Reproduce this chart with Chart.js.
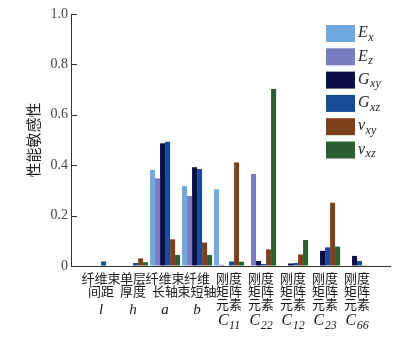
<!DOCTYPE html>
<html>
<head>
<meta charset="utf-8">
<script src="https://cdn.jsdelivr.net/npm/chart.js@4/dist/chart.umd.min.js"></script>
<style>
  html, body { margin: 0; padding: 0; background: #fff; }
  #wrap { width: 412px; height: 345px; position: relative; }
</style>
</head>
<body>
<div id="wrap"><canvas id="c"></canvas></div>
<script>
// 横軸カテゴリ(中国語の行)と記号(斜体 + 下付き)
const categories = [
  ['纤维束', '间距'],
  ['单层', '厚度'],
  ['纤维束', '长轴'],
  ['纤维', '束短轴'],
  ['刚度', '矩阵', '元素'],
  ['刚度', '矩阵', '元素'],
  ['刚度', '矩阵', '元素'],
  ['刚度', '矩阵', '元素'],
  ['刚度', '矩阵', '元素'],
];
const symbols = [['l', ''], ['h', ''], ['a', ''], ['b', ''], ['C', '11'], ['C', '22'], ['C', '12'], ['C', '23'], ['C', '66']];

// 系列名(本体, 下付き)と値
const seriesNames = [['E', 'x'], ['E', 'z'], ['G', 'xy'], ['G', 'xz'], ['v', 'xy'], ['v', 'xz']];
const Ex  = [0,     0,     0.381, 0.317, 0.304, 0,     0,     0.002, 0];
const Ez  = [0,     0,     0.348, 0.278, 0.005, 0.365, 0,     0.002, 0];
const Gxy = [0,     0,     0.487, 0.392, 0,     0.020, 0.010, 0.060, 0.040];
const Gxz = [0.018, 0.012, 0.493, 0.385, 0.018, 0.008, 0.012, 0.074, 0.020];
const vxy = [0,     0.030, 0.106, 0.093, 0.411, 0.066, 0.046, 0.251, 0.003];
const vxz = [0,     0.015, 0.044, 0.044, 0.017, 0.702, 0.103, 0.077, 0.002];
const seriesValues = [Ex, Ez, Gxy, Gxz, vxy, vxz];
const seriesColors = ['#6fa8dc', '#7a7cc2', '#0c0e46', '#184d96', '#7c401a', '#2d5e32'];

const yTicks = [0, 0.2, 0.4, 0.6, 0.8, 1.0];

const SERIF = '"Liberation Serif", "DejaVu Serif", serif';
const CJK = '"Noto Sans CJK SC", sans-serif';

/// 斜体の本体 + 下付きを描く。x は本体左端。幅を返す。
function drawSub(ctx, x, y, main, sub, size, subSize, draw = true) {
  ctx.font = `italic ${size}px ${SERIF}`;
  if (draw) ctx.fillText(main, x, y);
  let w = ctx.measureText(main).width;
  if (sub) {
    ctx.font = `italic ${subSize}px ${SERIF}`;
    if (draw) ctx.fillText(sub, x + w + 0.5, y + size * 0.28);
    w += 0.5 + ctx.measureText(sub).width;
  }
  return w;
}

const decorations = {
  id: 'decorations',
  afterDraw(chart) {
    const { ctx, chartArea: a, scales } = chart;
    const xs = scales.x, ys = scales.y;
    ctx.save();
    // y 軸の内向き目盛り
    ctx.strokeStyle = '#333';
    ctx.lineWidth = 1;
    for (const v of yTicks) {
      const py = Math.round(ys.getPixelForValue(v)) + 0.5;
      ctx.beginPath();
      ctx.moveTo(a.left, py);
      ctx.lineTo(a.left + 6, py);
      ctx.stroke();
    }
    // 横軸記号 l, h, a, b, C_ij
    ctx.fillStyle = '#1a1a1a';
    ctx.textBaseline = 'middle';
    ctx.textAlign = 'left';
    symbols.forEach(([m, s], i) => {
      const px = xs.getPixelForValue(i);
      const py = a.bottom + (categories[i].length === 2 ? 44 : 55);
      const size = s ? 16 : 15;
      const w = drawSub(ctx, 0, 0, m, s, size, 12, false);
      drawSub(ctx, px - w / 2, py, m, s, size, 12);
    });
    // 凡例
    const bx = a.right - 64, by = a.top + 11, step = 23.3;
    seriesNames.forEach(([m, s], i) => {
      const y0 = by + i * step;
      ctx.fillStyle = seriesColors[i];
      ctx.fillRect(bx, y0, 29, 17);
      ctx.fillStyle = '#222';
      drawSub(ctx, bx + 32, y0 + 8, m, s, 16, 12);
    });
    ctx.restore();
  },
};

new Chart(document.getElementById('c'), {
  type: 'bar',
  data: {
    datasets: seriesValues.map((vals, k) => ({
      label: seriesNames[k].join(''),
      data: vals.map((y, i) => ({ x: i, y })),
      backgroundColor: seriesColors[k],
      borderWidth: 0,
      categoryPercentage: 0.94,
      barPercentage: 1.0,
    })),
  },
  options: {
    responsive: true,
    maintainAspectRatio: false,
    animation: false,
    layout: { padding: { left: 0, top: 14, right: 22, bottom: 0 } },
    plugins: { legend: { display: false }, tooltip: { enabled: false } },
    scales: {
      x: {
        type: 'linear',
        min: -0.94,
        max: 9.03,
        offset: false,
        grid: { display: true, drawOnChartArea: false, drawTicks: false, offset: false },
        border: { display: true, color: '#333', width: 1 },
        ticks: {
          stepSize: 1,
          includeBounds: false,
          autoSkip: false,
          maxRotation: 0,
          minRotation: 0,
          padding: 6,
          color: '#1a1a1a',
          font: { family: CJK, size: 13, lineHeight: 0.985 },
          callback: (v) => {
            const i = Math.round(v);
            if (Math.abs(v - i) > 1e-6 || !categories[i]) return '';
            return categories[i];
          },
        },
        afterFit: (s) => { s.height = 79; },
      },
      y: {
        min: 0,
        max: 1,
        grid: { display: true, drawOnChartArea: false, drawTicks: false },
        border: { display: true, color: '#333', width: 1 },
        ticks: {
          stepSize: 0.2,
          padding: 3,
          color: '#444',
          font: { family: SERIF, size: 14 },
          callback: (v) => (Math.abs(v) < 1e-9 ? '0' : v.toFixed(1)),
        },
        title: {
          display: true,
          text: '性能敏感性',
          color: '#222',
          font: { family: CJK, size: 15, lineHeight: 1.2 },
          padding: { top: 24, bottom: 0 },
        },
        afterFit: (s) => { s.width = 71; },
      },
    },
  },
  plugins: [decorations],
});
</script>
</body>
</html>
